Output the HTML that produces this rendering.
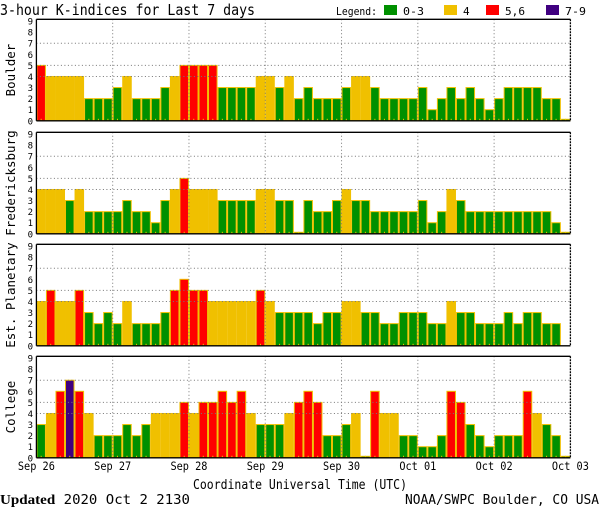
<!DOCTYPE html>
<html><head><meta charset="utf-8">
<style>
html,body{margin:0;padding:0;background:#fff;}
svg{display:block;font-family:"DejaVu Sans Mono","Liberation Mono",monospace;}
</style></head>
<body>
<svg id="chart" width="600" height="510" viewBox="0 0 600 510" xmlns="http://www.w3.org/2000/svg">
<text x="0" y="15" font-size="15" fill="#000" textLength="255" lengthAdjust="spacingAndGlyphs">3-hour K-indices for Last 7 days</text>
<g font-size="11">
<text x="336" y="15" textLength="41" lengthAdjust="spacingAndGlyphs">Legend:</text>
<rect x="384" y="5" width="13" height="10" fill="#009000"/>
<text x="403" y="15" textLength="21" lengthAdjust="spacingAndGlyphs">0-3</text>
<rect x="444" y="5" width="13" height="10" fill="#f0c000"/>
<text x="463" y="15">4</text>
<rect x="486" y="5" width="13" height="10" fill="#ff0000"/>
<text x="505" y="15" textLength="20" lengthAdjust="spacingAndGlyphs">5,6</text>
<rect x="546" y="5" width="13" height="10" fill="#400080"/>
<text x="565" y="15" textLength="21" lengthAdjust="spacingAndGlyphs">7-9</text>
</g>
<text x="193" y="489" font-size="13" textLength="214" lengthAdjust="spacingAndGlyphs">Coordinate Universal Time (UTC)</text>
<text x="0" y="504" font-size="13" textLength="190" lengthAdjust="spacingAndGlyphs"><tspan font-family="Liberation Serif,serif" font-weight="bold" font-size="14">Updated</tspan> 2020 Oct  2 2130</text>
<text x="405" y="504" font-size="13" textLength="194" lengthAdjust="spacingAndGlyphs">NOAA/SWPC Boulder, CO USA</text>
</svg>
<script>
const panelNames = ["Boulder","Fredericksburg","Est. Planetary","College"];
const boulderK = [5,4,4,4,4,2,2,2,3,4,2,2,2,3,4,5,5,5,5,3,3,3,3,4,4,3,4,2,3,2,2,2,3,4,4,3,2,2,2,2,3,1,2,3,2,3,2,1,2,3,3,3,3,2,2,0];
const fredK = [4,4,4,3,4,2,2,2,2,3,2,2,1,3,4,5,4,4,4,3,3,3,3,4,4,3,3,0,3,2,2,3,4,3,3,2,2,2,2,2,3,1,2,4,3,2,2,2,2,2,2,2,2,2,1,0];
const planetaryK = [4,5,4,4,5,3,2,3,2,4,2,2,2,3,5,6,5,5,4,4,4,4,4,5,4,3,3,3,3,2,3,3,4,4,3,3,2,2,3,3,3,2,2,4,3,3,2,2,2,3,2,3,3,2,2,null];
const collegeK = [3,4,6,7,6,4,2,2,2,3,2,3,4,4,4,5,4,5,5,6,5,6,4,3,3,3,4,5,6,5,2,2,3,4,0,6,4,4,2,2,1,1,2,6,5,3,2,1,2,2,2,6,4,3,2,0];
const panelSeries = [boulderK, fredK, planetaryK, collegeK];
const dayLabels = ["Sep 26","Sep 27","Sep 28","Sep 29","Sep 30","Oct 01","Oct 02","Oct 03"];
const yTicks = [0,1,2,3,4,5,6,7,8,9];
const gridLevels = [4,5,7];

const NS="http://www.w3.org/2000/svg";
const svg=document.getElementById('chart');
const X0=36.4, X1=570.4, NB=56, BW=(X1-X0)/NB, UNIT=11.08, PH=101.5;
const tops=[19.3,132.3,244.3,356.3];
function xs(i){return X0+i*BW;}
function mk(tag,attrs,parent){const e=document.createElementNS(NS,tag);for(const k in attrs)e.setAttribute(k,attrs[k]);(parent||svg).appendChild(e);return e;}
function color(k){return k<=3?"#009000":k==4?"#f0c000":k<=6?"#ff0000":"#400080";}

panelSeries.forEach((vals,p)=>{
  const top=tops[p], bot=top+PH;
  const ys=k=>bot-k*UNIT;
  const g=mk('g',{});
  
  
  vals.forEach((k,i)=>{
    if(k===null) return;
    const h=Math.max(k*UNIT,1.5);
    const r=mk('rect',{x:xs(i)+0.5,y:bot-h,width:BW-1,height:h,fill:color(k),stroke:"#f0c000","stroke-width":1},g);
    
    
    mk('rect',{x:xs(i)+BW/2-0.5,y:bot-2,width:1,height:2,fill:"#f0c000"},g);
  });
  gridLevels.forEach(l=>{
    const ln=mk('line',{x1:X0,x2:X1,y1:ys(l),y2:ys(l),stroke:"#777","stroke-dasharray":"1 2.5"},g);
    
    
  });
  for(let d=1;d<7;d++){
    const ln=mk('line',{x1:xs(d*8),x2:xs(d*8),y1:top,y2:bot,stroke:"#777","stroke-dasharray":"1 2.5"},g);
    
    
  }
  mk('line',{x1:X0,x2:X1,y1:top,y2:top,stroke:"#000","stroke-width":1.3},g);
  mk('line',{x1:X0,x2:X1,y1:bot,y2:bot,stroke:"#000","stroke-width":1.3},g);
  mk('line',{x1:X0,x2:X0,y1:top,y2:bot,stroke:"#000","stroke-width":1.3},g);
  mk('line',{x1:X1,x2:X1,y1:top,y2:bot,stroke:"#000","stroke-width":1.3,"stroke-dasharray":"2 1"},g);
  yTicks.forEach(t=>{
    const tx=mk('text',{x:33,y:ys(t)+3.5,"font-size":9,"text-anchor":"end"},g);
    tx.textContent=t;
    
    
  });
  const cy=(top+bot)/2;
  const lab=mk('text',{x:0,y:0,"font-size":12.5,"text-anchor":"middle",transform:`translate(15,${cy}) rotate(-90)`},g);
  lab.textContent=panelNames[p];
  
  
});
dayLabels.forEach((d,j)=>{
  const t=mk('text',{x:xs(j*8)-18.5,y:470,"font-size":11.5,textLength:37,lengthAdjust:"spacingAndGlyphs"});
  t.textContent=d;
  
  
});
</script>
</body></html>
